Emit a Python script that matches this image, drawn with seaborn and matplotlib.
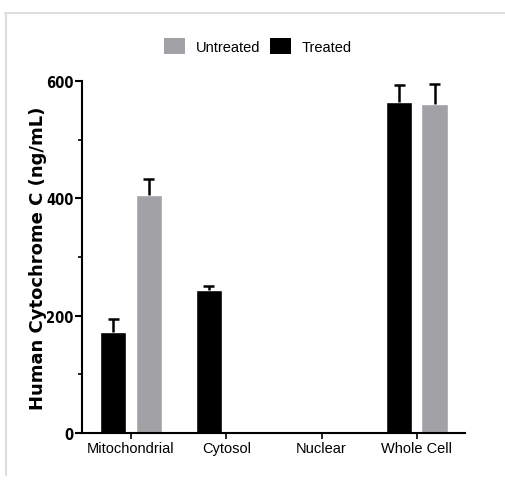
import matplotlib
matplotlib.use("Agg")
import matplotlib.pyplot as plt
from matplotlib.lines import Line2D
from matplotlib.patches import Patch
import seaborn as sns
import pandas as pd
import numpy as np

categories = ["Mitochondrial", "Cytosol", "Nuclear", "Whole Cell"]
treated = [172, 244, 0, 564]
treated_err = [22, 7, 0, 30]
untreated = [406, 0, 0, 560]
untreated_err = [27, 0, 0, 35]
series = ["Treated", "Untreated"]
colors = {"Treated": "#000000", "Untreated": "#a2a2a6"}

df = pd.DataFrame({
    "Compartment": categories * 2,
    "Group": ["Treated"] * 4 + ["Untreated"] * 4,
    "Value": treated + untreated,
    "Err": treated_err + untreated_err,
})

sns.set_style("ticks")
plt.rcParams["axes.edgecolor"] = "black"
plt.rcParams["xtick.color"] = "black"
plt.rcParams["ytick.color"] = "black"
plt.rcParams["text.color"] = "black"
plt.rcParams["axes.labelcolor"] = "black"

fig = plt.figure(figsize=(5.06, 4.81), dpi=100)
ax = fig.add_axes([0.162, 0.0977, 0.757, 0.7318])

sns.barplot(data=df, x="Compartment", y="Value", hue="Group", hue_order=series,
            order=categories, palette=colors, width=0.74, gap=0.26,
            errorbar=None, ax=ax, legend=False, saturation=1)

# error bars (upper only), placed on the bars drawn by seaborn
cap = 0.06
for container, grp in zip(ax.containers, series):
    sub = df[df["Group"] == grp].set_index("Compartment").loc[categories]
    for patch, v, e in zip(container.patches, sub["Value"], sub["Err"]):
        if e > 0:
            xc = patch.get_x() + patch.get_width() / 2
            ax.vlines(xc, v, v + e, color="black", lw=1.8, zorder=1)
            ax.hlines(v + e, xc - cap, xc + cap, color="black", lw=1.8, zorder=1)

ax.set_ylim(0, 600)
ax.set_xlim(-0.514, 3.505)
ax.set_yticks([0, 200, 400, 600])
ax.set_yticks([100, 300, 500], minor=True)
ax.set_xlabel("")
ax.set_ylabel("Human Cytochrome C (ng/mL)", fontsize=13, fontweight="bold",
              family=["DejaVu Sans"])
ax.yaxis.set_label_coords(-0.09, 0.5)
for s in ["top", "right"]:
    ax.spines[s].set_visible(False)
for s in ["left", "bottom"]:
    ax.spines[s].set_linewidth(1.5)
ax.tick_params(axis="y", which="major", length=5, width=1.5, pad=1)
ax.tick_params(axis="y", which="minor", length=3, width=1.2)
ax.tick_params(axis="x", length=4, width=1.2, pad=2)
for lab in ax.get_yticklabels():
    lab.set_fontfamily("DejaVu Sans")
    lab.set_fontstretch("condensed")
    lab.set_fontweight("bold")
    lab.set_fontsize(10.5)
for lab in ax.get_xticklabels():
    lab.set_fontfamily("Liberation Sans")
    lab.set_fontsize(10.5)

handles = [Patch(facecolor=colors["Untreated"], edgecolor="none"),
           Patch(facecolor=colors["Treated"], edgecolor="none")]
fig.legend(handles, ["Untreated", "Treated"], loc="center", bbox_to_anchor=(0.51, 0.902),
           ncol=2, frameon=False, prop={"family": "Liberation Sans", "size": 10.5},
           handlelength=1.45, handleheight=1.35, handletextpad=0.7, columnspacing=0.7)

# light frame (top and left edges)
fig.add_artist(Line2D([5 / 506, 1.0], [1 - 14 / 481, 1 - 14 / 481], color="#dddddd", lw=1.5))
fig.add_artist(Line2D([6 / 506, 6 / 506], [1 - 14 / 481, 1 - 476 / 481], color="#dddddd", lw=1.5))

fig.savefig("out.png", dpi=100)
